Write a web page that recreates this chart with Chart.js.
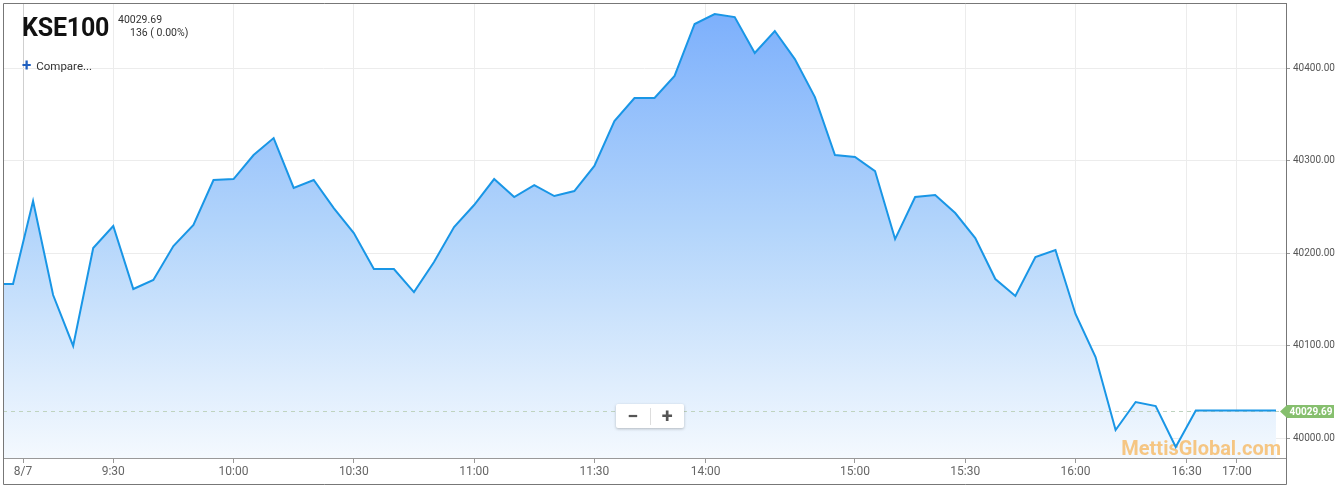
<!DOCTYPE html>
<html>
<head>
<meta charset="utf-8">
<script src="https://cdn.jsdelivr.net/npm/chart.js@4"></script>
<style>
  body { margin: 0; background: #fff; font-family: Roboto, sans-serif; }
  #wrap { position: relative; width: 1340px; height: 489px; }
  #kse { position: absolute; left: 22px; top: 13px; font: bold 25px Roboto; color: #111; letter-spacing: -0.2px; }
  #last { position: absolute; left: 118px; top: 13px; font: 10.5px Roboto; color: #333; line-height: 13px; }
  #chg { position: absolute; left: 130px; top: 26px; font: 10.5px Roboto; color: #333; line-height: 13px; }
  #cmp { position: absolute; left: 22px; top: 54px; font: 11.5px Roboto; color: #333; }
  #cmp b { color: #1f5fbf; font-size: 17px; margin-right: 5px; position: relative; top: 1px; }
  #zoom { position: absolute; left: 616px; top: 404px; width: 68px; height: 24px; background: #fff;
          border-radius: 2px; box-shadow: 0 1px 3px rgba(0,0,0,0.25); display: flex; align-items: center; }
  #zoom span { flex: 1; text-align: center; font: bold 20px Roboto; color: #555; line-height: 24px; }
  #zoom i { width: 1px; height: 17px; background: #ddd; }
</style>
</head>
<body>
<div id="wrap">
  <canvas id="kse100" width="1340" height="489"></canvas>
  <div id="kse">KSE100</div>
  <div id="last">40029.69</div>
  <div id="chg">136 ( 0.00%)</div>
  <div id="cmp"><b>+</b>Compare...</div>
  <div id="zoom"><span>&minus;</span><i></i><span>+</span></div>
</div>
<script>
// index of each 5 minute bar (first one sits just outside the left edge)
let bars = []
for (let i = -1; i <= 63; i++) bars.push(i)

const closes = [
  40166.5, 40166.5, 40256.2, 40154.6, 40099.5, 40205.4, 40229.2, 40161.1, 40170.8, 40207.6,
  40230.3, 40278.9, 40280.0, 40305.9, 40324.3, 40270.3, 40278.9, 40248.6, 40221.6, 40182.7,
  40182.7, 40157.8, 40190.3, 40228.1, 40251.9, 40280.0, 40260.5, 40273.5, 40261.6, 40267.0,
  40294.1, 40342.7, 40367.6, 40367.6, 40391.4, 40447.6, 40458.4, 40455.1, 40416.2, 40440.0,
  40409.7, 40368.6, 40305.9, 40303.8, 40288.6, 40215.1, 40260.5, 40262.7, 40243.2, 40216.2,
  40171.9, 40153.5, 40195.7, 40203.2, 40134.1, 40087.6, 40008.6, 40038.9, 40034.6, 39990.3,
  40029.69, 40029.69, 40029.69, 40029.69, 40029.69
]

const tickLabels = ['8/7', '9:30', '10:00', '10:30', '11:00', '11:30', '14:00', '15:00', '15:30', '16:00', '16:30', '17:00']
const tickAt = [0.5, 5, 11, 17, 23, 29, 34.55, 42, 47.5, 53, 58.55, 61.05]
const priceTicks = [40000, 40100, 40200, 40300, 40400]
const lastPrice = 40029.69

const points = bars.map((b, i) => ({ x: b, y: closes[i] }))

const decor = {
  id: 'decor',
  beforeDatasetsDraw(chart) {
    // runs after the filler, so the dashes sit on the fill but under the line
    const c = chart.ctx, a = chart.chartArea
    const y = chart.scales.y.getPixelForValue(lastPrice)
    c.save()
    c.strokeStyle = '#bfd3bf'
    c.setLineDash([4, 4])
    c.beginPath()
    c.moveTo(a.left, Math.round(y) + 0.5)
    c.lineTo(a.right, Math.round(y) + 0.5)
    c.stroke()
    c.setLineDash([])
    c.font = 'bold 20px Roboto'
    c.fillStyle = 'rgba(246, 185, 100, 0.8)'
    c.textAlign = 'right'
    c.textBaseline = 'alphabetic'
    c.fillText('MettisGlobal.com', 1281, 455)
    c.restore()
  },
  afterDraw(chart) {
    const c = chart.ctx, a = chart.chartArea
    c.save()
    // outer frame
    c.strokeStyle = '#777'
    c.lineWidth = 1
    c.beginPath()
    c.moveTo(a.left + 0.5, 484.5)
    c.lineTo(a.left + 0.5, a.top + 0.5)
    c.lineTo(a.right + 0.5, a.top + 0.5)
    c.lineTo(a.right + 0.5, 484.5)
    c.lineTo(a.left + 0.5, 484.5)
    c.stroke()
    // last price tag
    const y = Math.round(chart.scales.y.getPixelForValue(lastPrice)) + 0.5
    const x0 = a.right - 6
    c.fillStyle = '#86bf6e'
    c.beginPath()
    c.moveTo(x0, y)
    c.lineTo(x0 + 7, y - 6.5)
    c.lineTo(1334, y - 6.5)
    c.lineTo(1334, y + 6.5)
    c.lineTo(x0 + 7, y + 6.5)
    c.closePath()
    c.fill()
    c.fillStyle = '#fff'
    c.font = 'bold 10px Roboto'
    c.textAlign = 'center'
    c.textBaseline = 'middle'
    c.fillText(lastPrice.toFixed(2), 1311, y + 0.5)
    c.restore()
  }
}

let ctx = document.getElementById('kse100')
const chart = new Chart(ctx, {
  type: 'line',
  data: {
    datasets: [{
      data: points,
      borderColor: '#1996e6',
      borderWidth: 2,
      pointRadius: 0,
      tension: 0,
      fill: 'start',
      backgroundColor: (c) => {
        const a = c.chart.chartArea
        if (!a) return '#cfe4fb'
        const g = c.chart.ctx.createLinearGradient(0, a.top, 0, a.bottom)
        g.addColorStop(0, '#7aaefc')
        g.addColorStop(0.5, '#b3d5fb')
        g.addColorStop(1, '#f4f9fe')
        return g
      }
    }]
  },
  options: {
    responsive: false,
    animation: false,
    layout: { padding: { left: 3, top: 3, right: 0, bottom: 0 } },
    plugins: {
      legend: { display: false },
      tooltip: { enabled: false },
      filler: { drawTime: 'beforeDatasetsDraw' }
    },
    scales: {
      x: {
        type: 'linear',
        min: -0.5,
        max: 63.5,
        afterBuildTicks: (s) => { s.ticks = tickAt.map(v => ({ value: v })) },
        afterFit: (s) => { s.height = 31; s.paddingLeft = 0; s.paddingRight = 0 },
        ticks: {
          autoSkip: false,
          maxRotation: 0,
          padding: 2,
          color: '#666',
          font: { family: 'Roboto', size: 12 },
          callback: (v, i) => tickLabels[i]
        },
        grid: {
          color: (c) => c.index === 0 ? '#cfcfcf' : '#ececec',
          tickColor: '#999',
          tickLength: 5
        },
        border: { color: '#999' }
      },
      y: {
        position: 'right',
        min: 39978.4,
        max: 40470.3,
        afterBuildTicks: (s) => { s.ticks = priceTicks.map(v => ({ value: v })) },
        afterFit: (s) => { s.width = 54; s.paddingTop = 0; s.paddingBottom = 0 },
        ticks: {
          padding: 3,
          color: '#555',
          font: { family: 'Roboto', size: 10 },
          callback: (v) => v.toFixed(2)
        },
        grid: { color: '#ececec', tickColor: '#999', tickLength: 4 },
        border: { color: '#888' }
      }
    }
  },
  plugins: [decor]
})
</script>
</body>
</html>
